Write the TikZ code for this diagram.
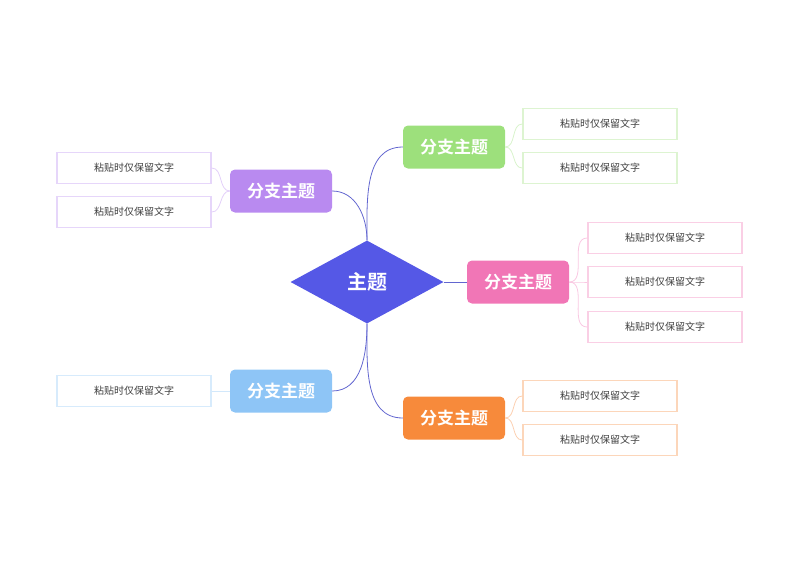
\documentclass[tikz,border=0pt]{standalone}
\usepackage{fontspec}
\newfontfamily\cjk{Noto Sans CJK SC}
\newfontfamily\cjkb{Noto Sans CJK SC Bold}
\usetikzlibrary{shapes.geometric}
\definecolor{cmain}{HTML}{5558E6}
\definecolor{cline}{HTML}{6266D0}
\definecolor{cg}{HTML}{9DE07C}
\definecolor{cp}{HTML}{B98AF0}
\definecolor{ck}{HTML}{F176B6}
\definecolor{cb}{HTML}{8EC5F6}
\definecolor{co}{HTML}{F78A3B}
\tikzset{
  branch/.style={rounded corners=5pt, minimum width=102pt, minimum height=43pt, text=white, font=\cjkb\fontsize{17}{20}\selectfont, inner sep=0pt},
  leaf/.style={draw=#1!35, line width=1.6pt, fill=white, minimum width=154pt, minimum height=31pt, inner sep=0pt, font=\cjk\fontsize{10}{12}\selectfont, text=black!75},
  mline/.style={draw=cline, line width=0.8pt},
  lline/.style={draw=#1!40, line width=0.8pt},
}
\begin{document}
\begin{tikzpicture}[x=1pt,y=-1pt]
\useasboundingbox (0,0) rectangle (800,566);
\node[diamond, fill=cmain, minimum width=153pt, minimum height=83pt, aspect=1.84, inner sep=0pt, text=white, font=\cjkb\fontsize{20}{24}\selectfont] (m) at (367,282) {主题};
\node[branch, fill=cg] (g) at (454,147) {分支主题};
\node[branch, fill=cp] (p) at (281,191) {分支主题};
\node[branch, fill=ck] (k) at (518,282) {分支主题};
\node[branch, fill=cb] (b) at (281,391) {分支主题};
\node[branch, fill=co] (o) at (454,418) {分支主题};
\draw[mline] (m.north) to[out=90,in=180] (g.west);
\draw[mline] (m.north) to[out=90,in=0] (p.east);
\draw[mline] (m.east) -- (k.west);
\draw[mline] (m.south) to[out=-90,in=0] (b.east);
\draw[mline] (m.south) to[out=-90,in=180] (o.west);
\node[leaf=cg] (g1) at (600,124) {粘贴时仅保留文字};
\node[leaf=cg] (g2) at (600,168) {粘贴时仅保留文字};
\node[leaf=cp] (p1) at (134,168) {粘贴时仅保留文字};
\node[leaf=cp] (p2) at (134,212) {粘贴时仅保留文字};
\node[leaf=ck] (k1) at (665,238) {粘贴时仅保留文字};
\node[leaf=ck] (k2) at (665,282) {粘贴时仅保留文字};
\node[leaf=ck] (k3) at (665,327) {粘贴时仅保留文字};
\node[leaf=cb] (b1) at (134,391) {粘贴时仅保留文字};
\node[leaf=co] (o1) at (600,396) {粘贴时仅保留文字};
\node[leaf=co] (o2) at (600,440) {粘贴时仅保留文字};
\foreach \s/\t in {g1,g2} \draw[lline=cg] (g.east) to[out=0,in=180] (\t.west);
\foreach \t in {p1,p2} \draw[lline=cp] (p.west) to[out=180,in=0] (\t.east);
\foreach \t in {k1,k2,k3} \draw[lline=ck] (k.east) to[out=0,in=180] (\t.west);
\draw[lline=cb] (b.west) -- (b1.east);
\foreach \t in {o1,o2} \draw[lline=co] (o.east) to[out=0,in=180] (\t.west);
\end{tikzpicture}
\end{document}
